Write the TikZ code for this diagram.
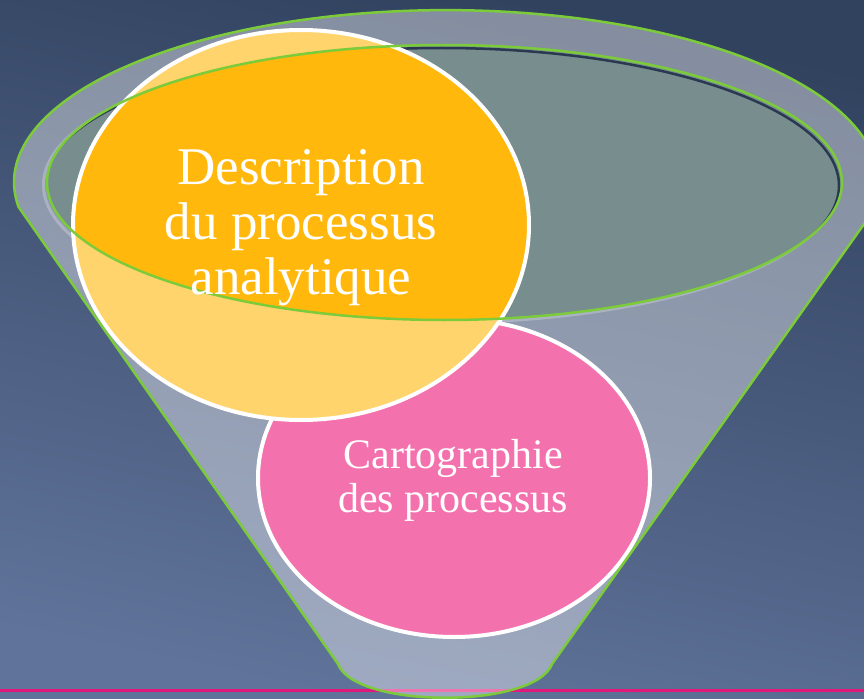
\documentclass[tikz,border=0pt]{standalone}
\usepackage{fontspec}
\setmainfont{Liberation Serif}
\definecolor{bgtop}{HTML}{31425F}
\definecolor{bgbottom}{HTML}{60739A}
\definecolor{rim}{HTML}{7CCB3A}
\definecolor{mouth}{HTML}{778D8E}
\definecolor{amber}{HTML}{FFB80B}
\definecolor{rose}{HTML}{EC1579}
\definecolor{floorline}{HTML}{E3187B}
\tikzset{
  bubble/.style={draw=white, line width=4bp},
  rimline/.style={draw=rim, line width=2.5bp},
  bubbletext/.style={text=white, align=center, inner sep=0pt},
}

\begin{document}
\begin{tikzpicture}[x=1bp,y=-1bp]
  \useasboundingbox (0,0) rectangle (864,699);
  \clip (0,0) rectangle (864,699);
  \fill[top color=bgtop, bottom color=bgbottom, shading angle=-12] (0,0) rectangle (864,699);
  \draw[floorline, line width=3bp] (0,690) -- (864,690);

  % opening of the funnel
  \draw[white, opacity=0.25, line width=3bp] (441,185) ellipse[x radius=397.5, y radius=137.5];
  \fill[mouth] (444.5,182.5) ellipse[x radius=397.5, y radius=137.5];
  \begin{scope}
    \clip (444.5,182.5) ellipse[x radius=397.5, y radius=137.5];
    \draw[bgtop!85!black, line width=2.5bp] (441.5,185.5) ellipse[x radius=397.5, y radius=137.5];
  \end{scope}

  % the two circles
  \draw[bubble, fill=rose] (454,478) ellipse[x radius=196, y radius=159];
  \draw[bubble, fill=amber] (301,225) ellipse[x radius=228, y radius=195];

  % funnel body, see-through
  \fill[white, fill opacity=0.4, even odd rule]
    (18.6,207) -- (338,664) .. controls (355,709) and (535,709) .. (552,664) -- (869,217)
    arc[start angle=11.7, end angle=-188.4, x radius=432, y radius=172] -- cycle
    (444.5,182.5) ellipse[x radius=397.5, y radius=137.5];
  \draw[rimline]
    (18.6,207) -- (338,664) .. controls (355,709) and (535,709) .. (552,664) -- (869,217)
    arc[start angle=11.7, end angle=-188.4, x radius=432, y radius=172] -- cycle;
  \draw[rimline] (444.5,182.5) ellipse[x radius=397.5, y radius=137.5];

  \node[bubbletext, font=\fontsize{53bp}{55bp}\selectfont] (1) at (301,228) {Description\\du processus\\analytique};
  \node[bubbletext, font=\fontsize{42bp}{44bp}\selectfont] (2) at (453,480) {Cartographie\\des processus};
\end{tikzpicture}
\end{document}
